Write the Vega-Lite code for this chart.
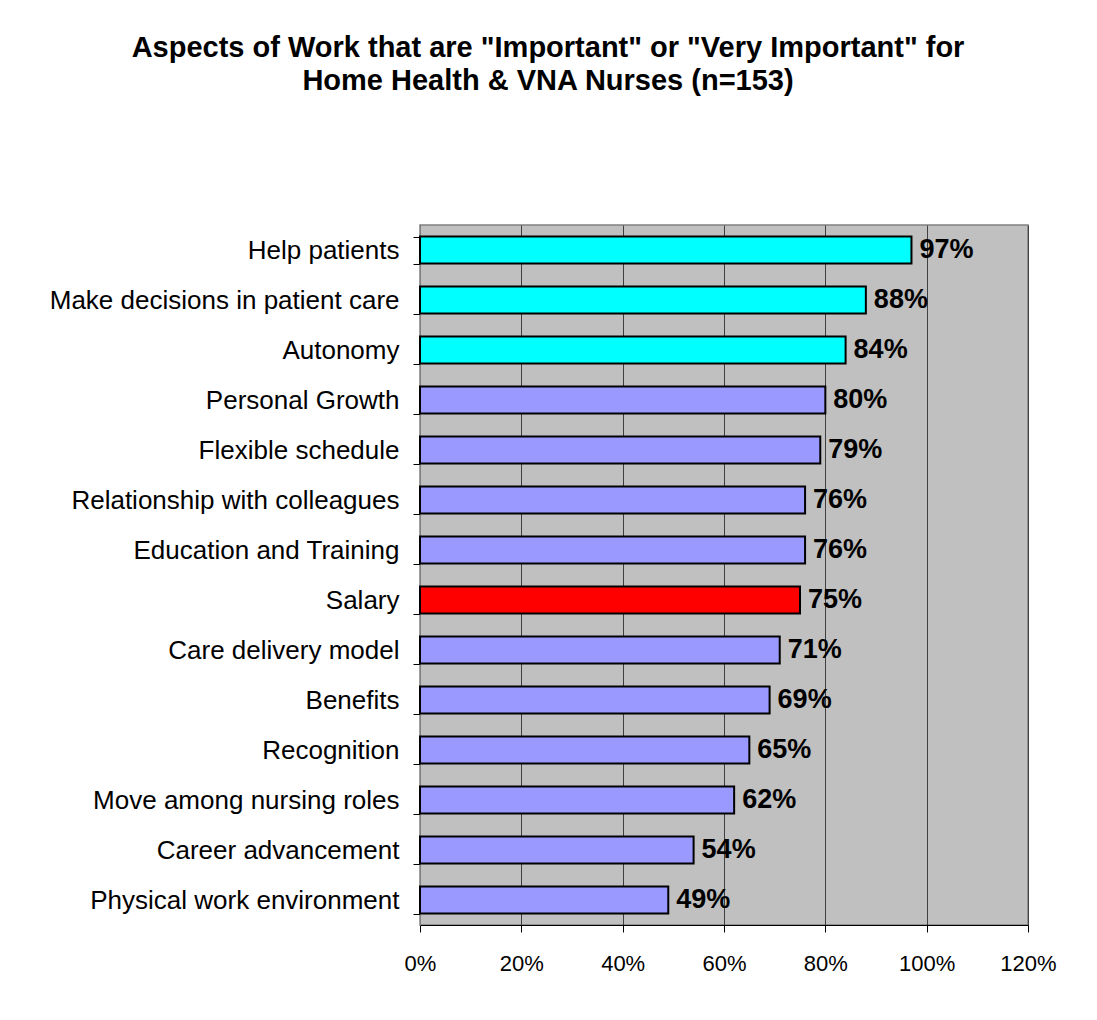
{
  "$schema": "https://vega.github.io/schema/vega-lite/v6.json",
  "width": 608,
  "height": 700,
  "autosize": {"type": "none"},
  "padding": {"left": 420, "top": 225, "right": 69, "bottom": 95},
  "background": "white",
  "title": {
    "text": ["Aspects of Work that are \"Important\" or \"Very Important\" for", "Home Health & VNA Nurses (n=153)"],
    "font": "Liberation Sans",
    "fontSize": 29,
    "fontWeight": "bold",
    "color": "black",
    "anchor": "middle",
    "dx": -176,
    "offset": 116,
    "lineHeight": 33
  },
  "config": {
    "view": {"fill": "#C0C0C0", "stroke": "#808080", "strokeWidth": 1.5},
    "font": "Liberation Sans"
  },
  "data": {
    "values": [
      {"aspect": "Help patients", "pct": 0.97, "group": "top"},
      {"aspect": "Make decisions in patient care", "pct": 0.88, "group": "top"},
      {"aspect": "Autonomy", "pct": 0.84, "group": "top"},
      {"aspect": "Personal Growth", "pct": 0.80, "group": "other"},
      {"aspect": "Flexible schedule", "pct": 0.79, "group": "other"},
      {"aspect": "Relationship with colleagues", "pct": 0.76, "group": "other"},
      {"aspect": "Education and Training", "pct": 0.76, "group": "other"},
      {"aspect": "Salary", "pct": 0.75, "group": "salary"},
      {"aspect": "Care delivery model", "pct": 0.71, "group": "other"},
      {"aspect": "Benefits", "pct": 0.69, "group": "other"},
      {"aspect": "Recognition", "pct": 0.65, "group": "other"},
      {"aspect": "Move among nursing roles", "pct": 0.62, "group": "other"},
      {"aspect": "Career advancement", "pct": 0.54, "group": "other"},
      {"aspect": "Physical work environment", "pct": 0.49, "group": "other"}
    ]
  },
  "encoding": {
    "y": {
      "field": "aspect",
      "type": "nominal",
      "sort": null,
      "title": null,
      "scale": {"paddingInner": 0.46, "paddingOuter": 0.23},
      "axis": {
        "tickBand": "extent",
        "labelFontSize": 26,
        "labelColor": "black",
        "labelPadding": 14,
        "tickSize": 7,
        "tickColor": "black",
        "domainColor": "#808080",
        "labelLimit": 420
      }
    },
    "x": {
      "field": "pct",
      "type": "quantitative",
      "title": null,
      "scale": {"domain": [0, 1.2], "nice": false},
      "axis": {
        "values": [0, 0.2, 0.4, 0.6, 0.8, 1.0, 1.2],
        "format": ".0%",
        "labelFontSize": 22,
        "labelColor": "black",
        "labelPadding": 21,
        "labelFlush": false,
        "tickSize": 7,
        "tickColor": "black",
        "domainColor": "black",
        "grid": true,
        "gridColor": "#404040",
        "gridWidth": 1
      }
    }
  },
  "layer": [
    {
      "mark": {"type": "bar", "stroke": "black", "strokeWidth": 2},
      "encoding": {
        "color": {
          "field": "group",
          "type": "nominal",
          "legend": null,
          "scale": {"domain": ["top", "other", "salary"], "range": ["#00FFFF", "#9999FF", "#FF0000"]}
        }
      }
    },
    {
      "mark": {"type": "text", "align": "left", "dx": 8, "fontSize": 27, "fontWeight": "bold", "color": "black"},
      "encoding": {
        "text": {"field": "pct", "type": "quantitative", "format": ".0%"}
      }
    }
  ]
}
